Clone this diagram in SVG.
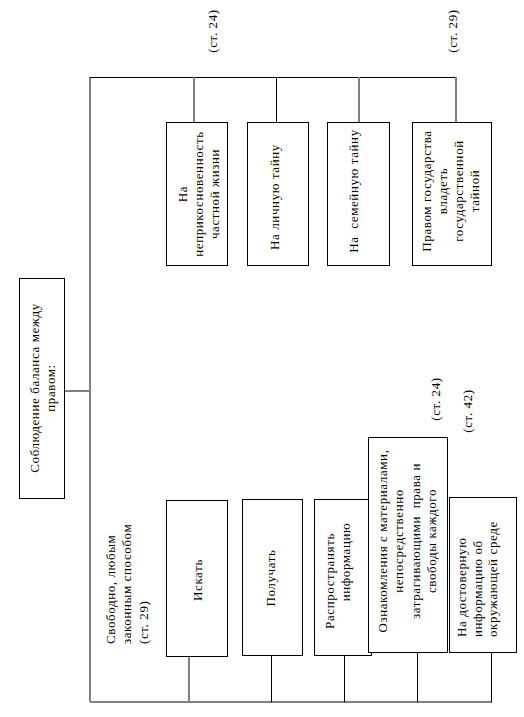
<svg xmlns="http://www.w3.org/2000/svg" width="524" height="717" viewBox="0 0 524 717">
<style>
.box{fill:#fff;stroke:#000;stroke-width:1}
.g{stroke:#808080;stroke-width:2;fill:none}
.k{stroke:#000;stroke-width:1;fill:none}
text{font-family:"Liberation Serif","Times New Roman",serif;font-size:13px;fill:#000;letter-spacing:0.6px}
.m{text-anchor:middle}
.s{text-anchor:start}
</style>
<rect width="524" height="717" fill="#fff"/>
<g id="connectors">
<path class="g" d="M64 391H90"/>
<path class="g" d="M90 77V702"/>
<path class="k" d="M90 77.5H457"/>
<path class="g" d="M194 77V122"/>
<path class="k" d="M276.5 77V122"/>
<path class="g" d="M359 77V122"/>
<path class="g" d="M456 77V122"/>
<path class="g" d="M90 702H492"/>
<path class="g" d="M189 656V702"/>
<path class="k" d="M271.5 655V702"/>
<path class="k" d="M344.5 655V702"/>
<path class="k" d="M417.5 652V702"/>
<path class="k" d="M491.5 652V702"/>
</g>
<g id="root">
<rect class="box" x="19.5" y="278.5" width="45" height="220"/>
<text class="m" transform="translate(39 388) rotate(-90)"><tspan x="0" y="0">Соблюдение баланса между</tspan><tspan x="0" y="16">правом:</tspan></text>
</g>
<g id="ref-top-24"><text class="m" transform="translate(217 31) rotate(-90)">(ст. 24)</text></g>
<g id="ref-top-29"><text class="m" transform="translate(457 31) rotate(-90)">(ст. 29)</text></g>
<g id="t1">
<rect class="box" x="166.5" y="122.5" width="61" height="143"/>
<text class="m" transform="translate(187 194) rotate(-90)"><tspan x="0" y="0">На</tspan><tspan x="0" y="16">неприкосновенность</tspan><tspan x="0" y="32">частной жизни</tspan></text>
</g>
<g id="t2">
<rect class="box" x="247.5" y="122.5" width="61" height="143"/>
<text class="m" transform="translate(279 197) rotate(-90)">На личную тайну</text>
</g>
<g id="t3">
<rect class="box" x="327.5" y="122.5" width="62" height="143"/>
<text class="m" transform="translate(358 191) rotate(-90)" xml:space="preserve">На  семейную тайну</text>
</g>
<g id="t4">
<rect class="box" x="412.5" y="122.5" width="79" height="143"/>
<text class="m" transform="translate(431 191) rotate(-90)"><tspan x="0" y="0">Правом государства</tspan><tspan x="0" y="16">владеть</tspan><tspan x="0" y="32">государственной</tspan><tspan x="0" y="48">тайной</tspan></text>
</g>
<g id="free-label">
<text class="s" transform="translate(115 644) rotate(-90)"><tspan x="0" y="0">Свободно, любым</tspan><tspan x="0" y="16">законным способом</tspan><tspan x="0" y="33">(ст. 29)</tspan></text>
</g>
<g id="b1">
<rect class="box" x="166.5" y="500.5" width="61" height="156"/>
<text class="m" transform="translate(202 580) rotate(-90)">Искать</text>
</g>
<g id="b2">
<rect class="box" x="242.5" y="499.5" width="60" height="156"/>
<text class="m" transform="translate(275 578) rotate(-90)">Получать</text>
</g>
<g id="b3">
<rect class="box" x="314.5" y="499.5" width="57" height="156"/>
<text transform="translate(334 0) rotate(-90)"><tspan class="m" x="-581" y="0">Распространять</tspan><tspan class="m" x="-562" y="16">информацию</tspan></text>
</g>
<g id="b4">
<rect class="box" x="368.5" y="437.5" width="79" height="215"/>
<text class="m" transform="translate(387 541) rotate(-90)" xml:space="preserve"><tspan x="0" y="0">Ознакомления с материалами,</tspan><tspan x="0" y="16">непосредственно</tspan><tspan x="0" y="33">затрагивающими  права и</tspan><tspan x="0" y="49">свободы каждого</tspan></text>
</g>
<g id="ref-b-24"><text class="m" transform="translate(440 399) rotate(-90)">(ст. 24)</text></g>
<g id="ref-b-42"><text class="m" transform="translate(472 411) rotate(-90)">(ст. 42)</text></g>
<g id="b5">
<rect class="box" x="449.5" y="497.5" width="67" height="155"/>
<text class="s" transform="translate(466 637) rotate(-90)"><tspan x="0" y="0">На достоверную</tspan><tspan x="0" y="16">информацию об</tspan><tspan x="0" y="31">окружающей среде</tspan></text>
</g>
</svg>
